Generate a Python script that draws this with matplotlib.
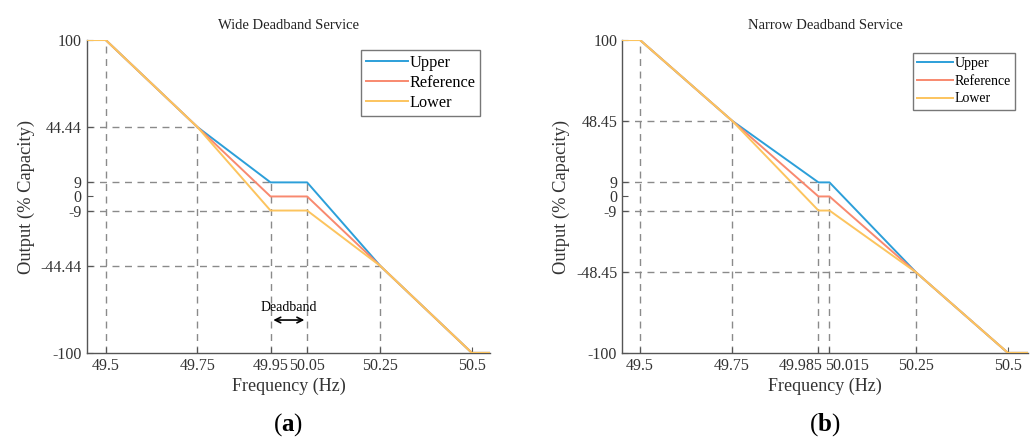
import matplotlib.pyplot as plt
from matplotlib.transforms import ScaledTranslation

plt.rcParams['font.family'] = ['Liberation Serif', 'DejaVu Serif']
plt.rcParams['mathtext.fontset'] = 'custom'
plt.rcParams['mathtext.bf'] = 'Liberation Serif:bold'
plt.rcParams['mathtext.rm'] = 'Liberation Serif'

# Panel (a): wide deadband
freq_a = [49.448, 49.5, 49.75, 49.95, 50.05, 50.25, 50.5, 50.55]
upper_a = [100, 100, 44.44, 9, 9, -44.44, -100, -100]
ref_a = [100, 100, 44.44, 0, 0, -44.44, -100, -100]
lower_a = [100, 100, 44.44, -9, -9, -44.44, -100, -100]
xticks_a = [49.5, 49.75, 49.95, 50.05, 50.25, 50.5]
xticklabels_a = ['49.5', '49.75', '49.95', '50.05', '50.25', '50.5']
yticks_a = [-100, -44.44, -9, 0, 9, 44.44, 100]

# Panel (b): narrow deadband
freq_b = [49.451, 49.5, 49.75, 49.985, 50.015, 50.25, 50.5, 50.554]
upper_b = [100, 100, 48.45, 9, 9, -48.45, -100, -100]
ref_b = [100, 100, 48.45, 0, 0, -48.45, -100, -100]
lower_b = [100, 100, 48.45, -9, -9, -48.45, -100, -100]
xticks_b = [49.5, 49.75, 49.985, 50.015, 50.25, 50.5]
xticklabels_b = ['49.5', '49.75', '49.985', '50.015', '50.25', '50.5']
yticks_b = [-100, -48.45, -9, 0, 9, 48.45, 100]

c_upper = '#2c9fd9'
c_ref = '#f8896f'
c_lower = '#fcc45e'
c_dash = '#8a8a8a'
c_axis = '#555555'


def draw_panel(ax, freq, upper, ref, lower, xticks, xlabels, yticks,
               knee, db_lo, db_hi, title, legend_fs, legend_sp, legend_pad):
    ymin = -100
    dash = dict(color=c_dash, lw=1.0, ls=(0, (5, 4)), zorder=1)
    x0 = freq[0]
    # guide lines
    ax.plot([49.5, 49.5], [ymin, 100], **dash)
    ax.plot([49.75, 49.75], [ymin, knee], **dash)
    ax.plot([x0, 49.75], [knee, knee], **dash)
    ax.plot([x0, db_lo], [9, 9], **dash)
    ax.plot([x0, db_lo], [-9, -9], **dash)
    ax.plot([db_lo, db_lo], [ymin, 9], **dash)
    ax.plot([db_hi, db_hi], [ymin, 9], **dash)
    ax.plot([x0, 50.25], [-knee, -knee], **dash)
    ax.plot([50.25, 50.25], [ymin, -knee], **dash)

    ax.plot(freq, upper, color=c_upper, lw=1.4, label='Upper', zorder=3)
    ax.plot(freq, ref, color=c_ref, lw=1.4, label='Reference', zorder=3)
    ax.plot(freq, lower, color=c_lower, lw=1.4, label='Lower', zorder=3)

    ax.set_xlim(freq[0], freq[-1])
    ax.set_ylim(-100, 100)
    ax.set_xticks(xticks)
    ax.set_xticklabels(xlabels)
    ax.set_yticks(yticks)
    ax.set_yticklabels([f'{v:g}' for v in yticks])
    ax.tick_params(direction='in', length=4, width=0.8, colors=c_axis,
                   labelcolor='#333333', labelsize=11.5)
    for s in ['top', 'right']:
        ax.spines[s].set_visible(False)
    for s in ['left', 'bottom']:
        ax.spines[s].set_color(c_axis)
        ax.spines[s].set_linewidth(1.0)
    ax.set_xlabel('Frequency (Hz)', fontsize=13, color='#333333', labelpad=3)
    ax.set_ylabel('Output (% Capacity)', fontsize=13.3, color='#333333', labelpad=4)
    ax.set_title(title, fontsize=10.5, color='#222222', pad=8)
    leg = ax.legend(loc='upper right', fontsize=legend_fs, frameon=True,
                    fancybox=False, edgecolor='#555555', handlelength=2.6,
                    handletextpad=0.1, borderpad=0.3, labelspacing=legend_sp,
                    borderaxespad=legend_pad)
    leg.get_frame().set_linewidth(1.0)


fig = plt.figure(figsize=(10.35, 4.4), dpi=100)
ax1 = fig.add_axes([0.0838, 0.198, 0.3898, 0.711])
ax2 = fig.add_axes([0.601, 0.198, 0.392, 0.711])

draw_panel(ax1, freq_a, upper_a, ref_a, lower_a, xticks_a, xticklabels_a,
           yticks_a, 44.44, 49.95, 50.05, 'Wide Deadband Service', 11.7, 0.25, 0.6)
draw_panel(ax2, freq_b, upper_b, ref_b, lower_b, xticks_b, xticklabels_b,
           yticks_b, 48.45, 49.985, 50.015, 'Narrow Deadband Service', 10, 0.35, 0.9)

# the two close deadband labels in (b) sit either side of their ticks
lbls = ax2.get_xticklabels()
lbls[2].set_ha('right')
lbls[2].set_transform(lbls[2].get_transform() + ScaledTranslation(0.04, 0, fig.dpi_scale_trans))
lbls[3].set_ha('left')
lbls[3].set_transform(lbls[3].get_transform() + ScaledTranslation(-0.04, 0, fig.dpi_scale_trans))

ax1.annotate('', xy=(49.95, -79), xytext=(50.05, -79),
             arrowprops=dict(arrowstyle='<->', color='black', lw=1.2))
ax1.text(50.0, -71, 'Deadband', ha='center', va='center', fontsize=10)

fig.text(0.278, 0.035, r'($\mathbf{a}$)', ha='center', va='center', fontsize=18)
fig.text(0.797, 0.035, r'($\mathbf{b}$)', ha='center', va='center', fontsize=18)

fig.savefig('out.png', dpi=100)
